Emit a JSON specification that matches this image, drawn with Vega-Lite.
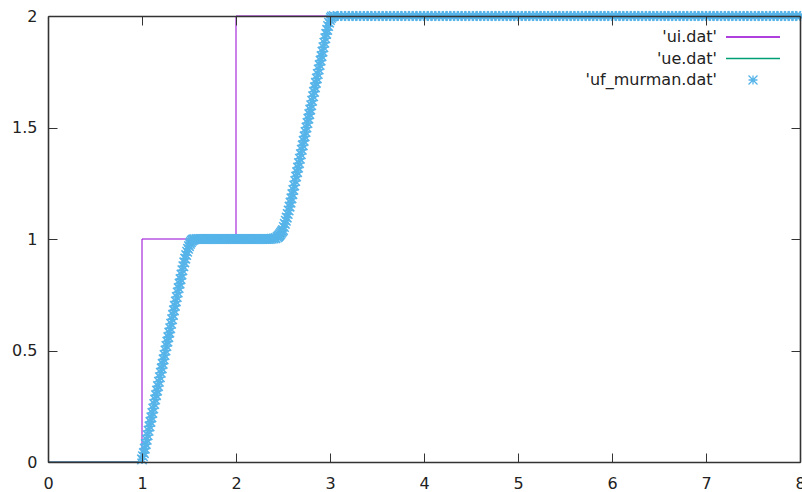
{
  "$schema": "https://vega.github.io/schema/vega-lite/v6.json",
  "width": 752,
  "height": 446,
  "autosize": {"type": "none"},
  "padding": {"left": 48, "top": 16, "right": 2, "bottom": 30},
  "background": "white",
  "config": {
    "view": {"stroke": null},
    "font": "DejaVu Sans",
    "axis": {
      "grid": false,
      "domainColor": "#333333",
      "domainWidth": 1.6,
      "tickColor": "#333333",
      "tickWidth": 1,
      "tickSize": -9,
      "labelFont": "DejaVu Sans",
      "labelFontSize": 16,
      "labelColor": "#222222",
      "labelFlush": false,
      "labelOverlap": false,
      "zindex": 1,
      "title": null
    },
    "legend": {
      "orient": "none",
      "legendX": 696,
      "legendY": 12,
      "direction": "vertical",
      "symbolType": "circle",
      "symbolSize": 256,
      "symbolStrokeWidth": 1.3,
      "symbolOffset": 0,
      "labelAlign": "right",
      "labelOffset": -45,
      "labelFont": "DejaVu Sans",
      "labelFontSize": 16,
      "labelColor": "#222222",
      "labelLimit": 400,
      "rowPadding": 4.5,
      "padding": 0
    }
  },
  "datasets": {
    "ui": [
      {"k": 0, "x": 0, "y": 0},
      {"k": 1, "x": 1, "y": 0},
      {"k": 2, "x": 1, "y": 1},
      {"k": 3, "x": 2, "y": 1},
      {"k": 4, "x": 2, "y": 2},
      {"k": 5, "x": 8, "y": 2}
    ],
    "ue": [
      {"k": 0, "x": 0, "y": 0},
      {"k": 1, "x": 1, "y": 0},
      {"k": 2, "x": 1.5, "y": 1},
      {"k": 3, "x": 2.5, "y": 1},
      {"k": 4, "x": 3, "y": 2},
      {"k": 5, "x": 8, "y": 2}
    ],
    "uf": [
      {"x":1,"y":0.012},{"x":1.01,"y":0.026},{"x":1.02,"y":0.04},{"x":1.03,"y":0.06},{"x":1.04,"y":0.08},
      {"x":1.05,"y":0.1},{"x":1.06,"y":0.12},{"x":1.07,"y":0.14},{"x":1.08,"y":0.16},{"x":1.09,"y":0.18},
      {"x":1.1,"y":0.2},{"x":1.11,"y":0.22},{"x":1.12,"y":0.24},{"x":1.13,"y":0.26},{"x":1.14,"y":0.28},
      {"x":1.15,"y":0.3},{"x":1.16,"y":0.32},{"x":1.17,"y":0.34},{"x":1.18,"y":0.36},{"x":1.19,"y":0.38},
      {"x":1.2,"y":0.4},{"x":1.21,"y":0.42},{"x":1.22,"y":0.44},{"x":1.23,"y":0.46},{"x":1.24,"y":0.48},
      {"x":1.25,"y":0.5},{"x":1.26,"y":0.52},{"x":1.27,"y":0.54},{"x":1.28,"y":0.56},{"x":1.29,"y":0.58},
      {"x":1.3,"y":0.6},{"x":1.31,"y":0.62},{"x":1.32,"y":0.64},{"x":1.33,"y":0.66},{"x":1.34,"y":0.68},
      {"x":1.35,"y":0.7},{"x":1.36,"y":0.72},{"x":1.37,"y":0.74},{"x":1.38,"y":0.76},{"x":1.39,"y":0.78},
      {"x":1.4,"y":0.8},{"x":1.41,"y":0.82},{"x":1.42,"y":0.84},{"x":1.43,"y":0.86},{"x":1.44,"y":0.878},
      {"x":1.45,"y":0.895},{"x":1.46,"y":0.912},{"x":1.47,"y":0.928},{"x":1.48,"y":0.943},{"x":1.49,"y":0.956},
      {"x":1.5,"y":0.968},{"x":1.51,"y":0.978},{"x":1.52,"y":0.986},{"x":1.53,"y":0.992},{"x":1.54,"y":0.996},
      {"x":1.55,"y":0.998},{"x":1.56,"y":0.999},
      {"x":1.58,"y":1},{"x":1.6,"y":1},{"x":1.62,"y":1},{"x":1.64,"y":1},{"x":1.66,"y":1},
      {"x":1.68,"y":1},{"x":1.7,"y":1},{"x":1.72,"y":1},{"x":1.74,"y":1},{"x":1.76,"y":1},
      {"x":1.78,"y":1},{"x":1.8,"y":1},{"x":1.82,"y":1},{"x":1.84,"y":1},{"x":1.86,"y":1},
      {"x":1.88,"y":1},{"x":1.9,"y":1},{"x":1.92,"y":1},{"x":1.94,"y":1},{"x":1.96,"y":1},
      {"x":1.98,"y":1},{"x":2,"y":1},{"x":2.02,"y":1},{"x":2.04,"y":1},{"x":2.06,"y":1},
      {"x":2.08,"y":1},{"x":2.1,"y":1},{"x":2.12,"y":1},{"x":2.14,"y":1},{"x":2.16,"y":1},
      {"x":2.18,"y":1},{"x":2.2,"y":1},{"x":2.22,"y":1},{"x":2.24,"y":1},{"x":2.26,"y":1},
      {"x":2.28,"y":1},{"x":2.3,"y":1},{"x":2.32,"y":1},{"x":2.34,"y":1},{"x":2.36,"y":1},
      {"x":2.38,"y":1.001},{"x":2.4,"y":1.002},{"x":2.42,"y":1.004},{"x":2.44,"y":1.008},{"x":2.45,"y":1.012},
      {"x":2.46,"y":1.016},{"x":2.47,"y":1.022},{"x":2.48,"y":1.028},{"x":2.49,"y":1.034},{"x":2.5,"y":1.04},
      {"x":2.51,"y":1.054},{"x":2.52,"y":1.068},{"x":2.53,"y":1.082},{"x":2.54,"y":1.096},{"x":2.55,"y":1.112},
      {"x":2.56,"y":1.128},{"x":2.57,"y":1.145},{"x":2.58,"y":1.163},{"x":2.59,"y":1.182},{"x":2.6,"y":1.201},
      {"x":2.61,"y":1.22},{"x":2.62,"y":1.24},{"x":2.63,"y":1.26},{"x":2.64,"y":1.28},{"x":2.65,"y":1.3},
      {"x":2.66,"y":1.32},{"x":2.67,"y":1.34},{"x":2.68,"y":1.36},{"x":2.69,"y":1.38},{"x":2.7,"y":1.4},
      {"x":2.71,"y":1.42},{"x":2.72,"y":1.44},{"x":2.73,"y":1.46},{"x":2.74,"y":1.48},{"x":2.75,"y":1.5},
      {"x":2.76,"y":1.52},{"x":2.77,"y":1.54},{"x":2.78,"y":1.56},{"x":2.79,"y":1.58},{"x":2.8,"y":1.6},
      {"x":2.81,"y":1.62},{"x":2.82,"y":1.64},{"x":2.83,"y":1.66},{"x":2.84,"y":1.68},{"x":2.85,"y":1.7},
      {"x":2.86,"y":1.72},{"x":2.87,"y":1.74},{"x":2.88,"y":1.76},{"x":2.89,"y":1.78},{"x":2.9,"y":1.8},
      {"x":2.91,"y":1.82},{"x":2.92,"y":1.84},{"x":2.93,"y":1.86},{"x":2.94,"y":1.88},{"x":2.95,"y":1.9},
      {"x":2.96,"y":1.92},{"x":2.97,"y":1.938},{"x":2.98,"y":1.955},{"x":2.99,"y":1.97},{"x":3,"y":1.982},
      {"x":3.01,"y":1.991},{"x":3.02,"y":1.997},
      {"x":3.04,"y":2},{"x":3.08,"y":2},{"x":3.12,"y":2},{"x":3.16,"y":2},{"x":3.2,"y":2},
      {"x":3.24,"y":2},{"x":3.28,"y":2},{"x":3.32,"y":2},{"x":3.36,"y":2},{"x":3.4,"y":2},
      {"x":3.44,"y":2},{"x":3.48,"y":2},{"x":3.52,"y":2},{"x":3.56,"y":2},{"x":3.6,"y":2},
      {"x":3.64,"y":2},{"x":3.68,"y":2},{"x":3.72,"y":2},{"x":3.76,"y":2},{"x":3.8,"y":2},
      {"x":3.84,"y":2},{"x":3.88,"y":2},{"x":3.92,"y":2},{"x":3.96,"y":2},
      {"x":4,"y":2},{"x":4.04,"y":2},{"x":4.08,"y":2},{"x":4.12,"y":2},{"x":4.16,"y":2},
      {"x":4.2,"y":2},{"x":4.24,"y":2},{"x":4.28,"y":2},{"x":4.32,"y":2},{"x":4.36,"y":2},
      {"x":4.4,"y":2},{"x":4.44,"y":2},{"x":4.48,"y":2},{"x":4.52,"y":2},{"x":4.56,"y":2},
      {"x":4.6,"y":2},{"x":4.64,"y":2},{"x":4.68,"y":2},{"x":4.72,"y":2},{"x":4.76,"y":2},
      {"x":4.8,"y":2},{"x":4.84,"y":2},{"x":4.88,"y":2},{"x":4.92,"y":2},{"x":4.96,"y":2},
      {"x":5,"y":2},{"x":5.04,"y":2},{"x":5.08,"y":2},{"x":5.12,"y":2},{"x":5.16,"y":2},
      {"x":5.2,"y":2},{"x":5.24,"y":2},{"x":5.28,"y":2},{"x":5.32,"y":2},{"x":5.36,"y":2},
      {"x":5.4,"y":2},{"x":5.44,"y":2},{"x":5.48,"y":2},{"x":5.52,"y":2},{"x":5.56,"y":2},
      {"x":5.6,"y":2},{"x":5.64,"y":2},{"x":5.68,"y":2},{"x":5.72,"y":2},{"x":5.76,"y":2},
      {"x":5.8,"y":2},{"x":5.84,"y":2},{"x":5.88,"y":2},{"x":5.92,"y":2},{"x":5.96,"y":2},
      {"x":6,"y":2},{"x":6.04,"y":2},{"x":6.08,"y":2},{"x":6.12,"y":2},{"x":6.16,"y":2},
      {"x":6.2,"y":2},{"x":6.24,"y":2},{"x":6.28,"y":2},{"x":6.32,"y":2},{"x":6.36,"y":2},
      {"x":6.4,"y":2},{"x":6.44,"y":2},{"x":6.48,"y":2},{"x":6.52,"y":2},{"x":6.56,"y":2},
      {"x":6.6,"y":2},{"x":6.64,"y":2},{"x":6.68,"y":2},{"x":6.72,"y":2},{"x":6.76,"y":2},
      {"x":6.8,"y":2},{"x":6.84,"y":2},{"x":6.88,"y":2},{"x":6.92,"y":2},{"x":6.96,"y":2},
      {"x":7,"y":2},{"x":7.04,"y":2},{"x":7.08,"y":2},{"x":7.12,"y":2},{"x":7.16,"y":2},
      {"x":7.2,"y":2},{"x":7.24,"y":2},{"x":7.28,"y":2},{"x":7.32,"y":2},{"x":7.36,"y":2},
      {"x":7.4,"y":2},{"x":7.44,"y":2},{"x":7.48,"y":2},{"x":7.52,"y":2},{"x":7.56,"y":2},
      {"x":7.6,"y":2},{"x":7.64,"y":2},{"x":7.68,"y":2},{"x":7.72,"y":2},{"x":7.76,"y":2},
      {"x":7.8,"y":2},{"x":7.84,"y":2},{"x":7.88,"y":2},{"x":7.92,"y":2},{"x":7.96,"y":2},
      {"x":8,"y":2}
    ]
  },
  "layer": [
    {
      "data": {"name": "ui"},
      "mark": {"type": "line", "strokeWidth": 1, "clip": false},
      "encoding": {
        "x": {"field": "x", "type": "quantitative",
              "scale": {"domain": [0, 8], "nice": false, "zero": false},
              "axis": {"orient": "bottom", "values": [0,1,2,3,4,5,6,7,8], "format": "d", "labelPadding": 22.5, "zindex": 1}},
        "y": {"field": "y", "type": "quantitative",
              "scale": {"domain": [0, 2], "nice": false, "zero": false},
              "axis": {"orient": "left", "values": [0,0.5,1,1.5,2], "format": ".2~f", "labelPadding": 20, "zindex": 1}},
        "order": {"field": "k", "type": "quantitative"},
        "color": {
          "datum": "'ui.dat'",
          "type": "nominal",
          "scale": {"domain": ["'ui.dat'", "'ue.dat'", "'uf_murman.dat'"], "range": ["#9400d3", "#009e73", "#56b4e9"]},
          "legend": {
            "title": null,
            "encode": {
              "symbols": {
                "update": {
                  "shape": {"signal": "indexof(datum.value, 'murman') >= 0 ? 'M-0.56,0L0.56,0M0,-0.56L0,0.56M-0.56,-0.56L0.56,0.56M-0.56,0.56L0.56,-0.56' : 'M-3.375,0L3.375,0'"},
                  "stroke": {"signal": "scale('color', datum.value)"},
                  "fill": {"value": "transparent"},
                  "opacity": {"value": 1}
                }
              }
            }
          }
        }
      }
    },
    {
      "data": {"name": "ue"},
      "mark": {"type": "line", "strokeWidth": 1, "clip": false},
      "encoding": {
        "x": {"field": "x", "type": "quantitative",
              "axis": {"orient": "top", "values": [0,1,2,3,4,5,6,7,8], "labels": false, "zindex": 1}},
        "y": {"field": "y", "type": "quantitative",
              "axis": {"orient": "right", "values": [0,0.5,1,1.5,2], "labels": false, "zindex": 1}},
        "order": {"field": "k", "type": "quantitative"},
        "color": {"datum": "'ue.dat'", "type": "nominal"}
      }
    },
    {
      "data": {"name": "uf"},
      "mark": {"type": "point", "shape": "M-1,0L1,0M0,-1L0,1M-1,-1L1,1M-1,1L1,-1", "filled": false, "size": 90, "strokeWidth": 1.6, "opacity": 1, "clip": false},
      "encoding": {
        "x": {"field": "x", "type": "quantitative", "axis": null},
        "y": {"field": "y", "type": "quantitative", "axis": null},
        "color": {"datum": "'uf_murman.dat'", "type": "nominal"}
      }
    }
  ],
  "resolve": {"axis": {"x": "independent", "y": "independent"}}
}
